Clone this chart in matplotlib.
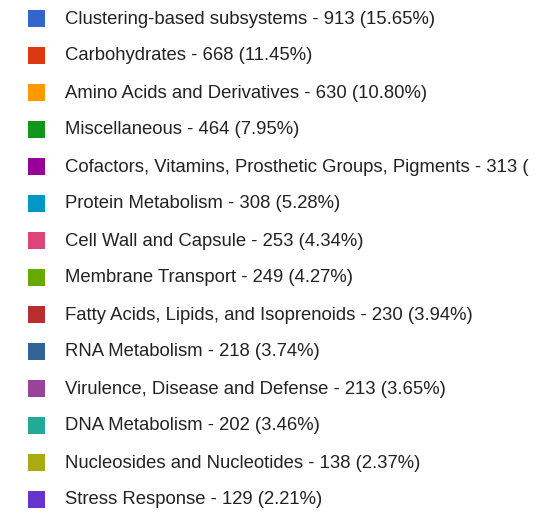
import matplotlib.pyplot as plt
from matplotlib.patches import Rectangle

# legend entries (chart itself is cropped out in the reference)
categories = [
    "Clustering-based subsystems", "Carbohydrates", "Amino Acids and Derivatives",
    "Miscellaneous", "Cofactors, Vitamins, Prosthetic Groups, Pigments",
    "Protein Metabolism", "Cell Wall and Capsule", "Membrane Transport",
    "Fatty Acids, Lipids, and Isoprenoids", "RNA Metabolism",
    "Virulence, Disease and Defense", "DNA Metabolism",
    "Nucleosides and Nucleotides", "Stress Response",
]
counts = [913, 668, 630, 464, 313, 308, 253, 249, 230, 218, 213, 202, 138, 129]
percents = ["15.65%", "11.45%", "10.80%", "7.95%", "5.36%", "5.28%", "4.34%",
            "4.27%", "3.94%", "3.74%", "3.65%", "3.46%", "2.37%", "2.21%"]
colors = ["#3366cc", "#dc3912", "#ff9900", "#109618", "#990099", "#0099c6",
          "#dd4477", "#66aa00", "#b82e2e", "#316395", "#994499", "#22aa99",
          "#aaaa11", "#6633cc"]

fig = plt.figure(figsize=(5.57, 5.13), dpi=100)
ax = fig.add_axes([0, 0, 1, 1])
ax.set_xlim(0, 557)
ax.set_ylim(513, 0)
ax.axis("off")

y0, step, box = 18, 37, 17
for i, (cat, n, p, c) in enumerate(zip(categories, counts, percents, colors)):
    y = y0 + i * step
    ax.add_patch(Rectangle((28, y - box / 2), box, box, facecolor=c, edgecolor="none"))
    label = f"{cat} - {n} ({p})"
    if i == 4:
        # the long label is clipped in the original
        label = f"{cat} - {n} ("
    ax.text(65, y + 1, label, va="center", ha="left", fontsize=13.3,
            family="Liberation Sans", color="#222222")

fig.savefig("out.png", dpi=100)
